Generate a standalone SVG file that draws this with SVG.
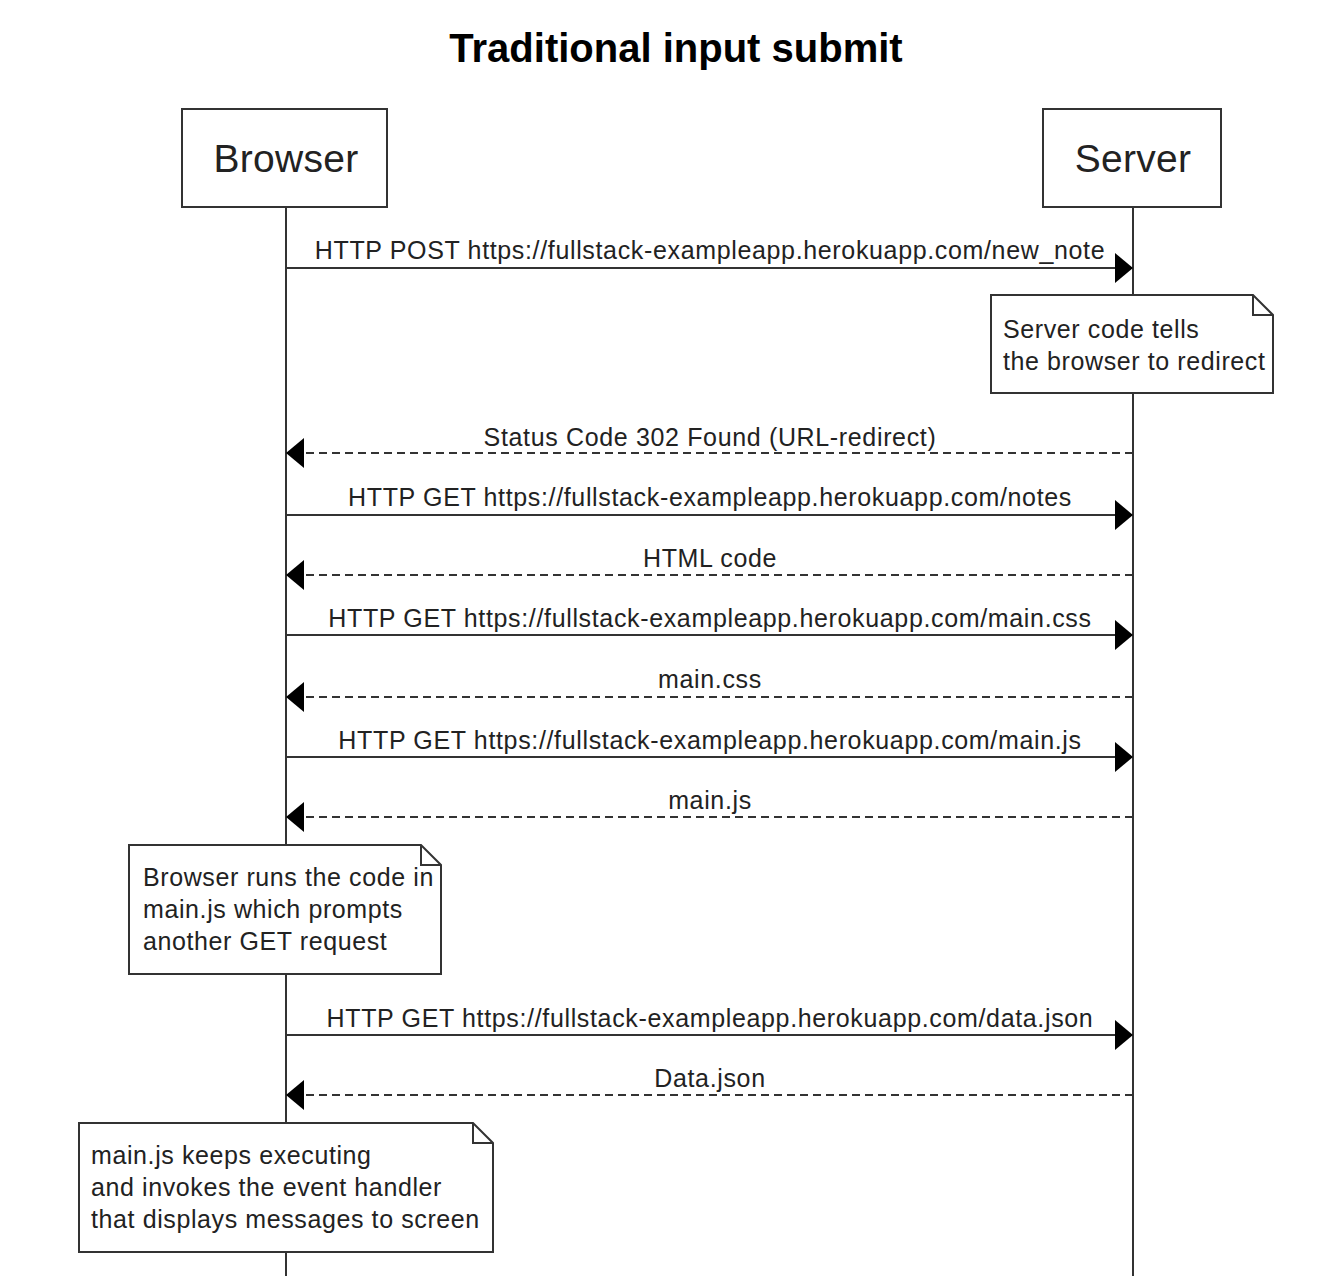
<svg xmlns="http://www.w3.org/2000/svg" width="1344" height="1276" viewBox="0 0 1344 1276">
<defs>
<style>
text{font-family:"Liberation Sans",Arial,sans-serif;fill:#222}
.title{font-size:40px;font-weight:bold;text-anchor:middle;fill:#000}
.actor rect{fill:#fff;stroke:#333;stroke-width:2}
.actor text{font-size:39px;text-anchor:middle;letter-spacing:0.3px}
.life{stroke:#333;stroke-width:2}
.msg{stroke:#333;stroke-width:2;fill:none}
.dash{stroke-dasharray:8,5}
.lbl{font-size:25px;text-anchor:middle;letter-spacing:0.65px}
.note path{fill:#fff;stroke:#333;stroke-width:2}
.note text{font-size:25px;letter-spacing:0.6px}
</style>
<marker id="ah" viewBox="0 0 18 30" refX="18" refY="15" markerWidth="18" markerHeight="30" markerUnits="userSpaceOnUse" orient="auto">
<path d="M0,0 L18,15 L0,30 Z" fill="#000"/>
</marker>
</defs>
<rect width="1344" height="1276" fill="#fff"/>
<text class="title" x="676" y="62">Traditional input submit</text>
<g id="lifelines">
<line class="life" x1="286" y1="207" x2="286" y2="1276"/>
<line class="life" x1="1133" y1="207" x2="1133" y2="1276"/>
</g>
<g id="browser" class="actor">
<rect x="182" y="109" width="205" height="98"/>
<text x="286" y="172">Browser</text>
</g>
<g id="server" class="actor">
<rect x="1043" y="109" width="178" height="98"/>
<text x="1133" y="172">Server</text>
</g>
<g id="connectors">
<line class="msg" x1="286" y1="268" x2="1133" y2="268" marker-end="url(#ah)"/>
<text class="lbl" x="710" y="259">HTTP POST https://fullstack-exampleapp.herokuapp.com/new_note</text>
<line class="msg dash" x1="1133" y1="453" x2="286" y2="453" marker-end="url(#ah)"/>
<text class="lbl" x="710" y="446">Status Code 302 Found (URL-redirect)</text>
<line class="msg" x1="286" y1="515" x2="1133" y2="515" marker-end="url(#ah)"/>
<text class="lbl" x="710" y="506">HTTP GET https://fullstack-exampleapp.herokuapp.com/notes</text>
<line class="msg dash" x1="1133" y1="575" x2="286" y2="575" marker-end="url(#ah)"/>
<text class="lbl" x="710" y="567">HTML code</text>
<line class="msg" x1="286" y1="635" x2="1133" y2="635" marker-end="url(#ah)"/>
<text class="lbl" x="710" y="627">HTTP GET https://fullstack-exampleapp.herokuapp.com/main.css</text>
<line class="msg dash" x1="1133" y1="697" x2="286" y2="697" marker-end="url(#ah)"/>
<text class="lbl" x="710" y="688">main.css</text>
<line class="msg" x1="286" y1="757" x2="1133" y2="757" marker-end="url(#ah)"/>
<text class="lbl" x="710" y="749">HTTP GET https://fullstack-exampleapp.herokuapp.com/main.js</text>
<line class="msg dash" x1="1133" y1="817" x2="286" y2="817" marker-end="url(#ah)"/>
<text class="lbl" x="710" y="809">main.js</text>
<line class="msg" x1="286" y1="1035" x2="1133" y2="1035" marker-end="url(#ah)"/>
<text class="lbl" x="710" y="1027">HTTP GET https://fullstack-exampleapp.herokuapp.com/data.json</text>
<line class="msg dash" x1="1133" y1="1095" x2="286" y2="1095" marker-end="url(#ah)"/>
<text class="lbl" x="710" y="1087">Data.json</text>
</g>
<g id="note1" class="note">
<path d="M991,295 H1253 L1273,315 V393 H991 Z M1253,295 V315 H1273"/>
<text x="1003" y="338">Server code tells</text>
<text x="1003" y="370">the browser to redirect</text>
</g>
<g id="note2" class="note">
<path d="M129,845 H421 L441,865 V974 H129 Z M421,845 V865 H441"/>
<text x="143" y="886">Browser runs the code in</text>
<text x="143" y="918">main.js which prompts</text>
<text x="143" y="950">another GET request</text>
</g>
<g id="note3" class="note">
<path d="M79,1123 H473 L493,1143 V1252 H79 Z M473,1123 V1143 H493"/>
<text x="91" y="1164">main.js keeps executing</text>
<text x="91" y="1196">and invokes the event handler</text>
<text x="91" y="1228">that displays messages to screen</text>
</g>
</svg>
